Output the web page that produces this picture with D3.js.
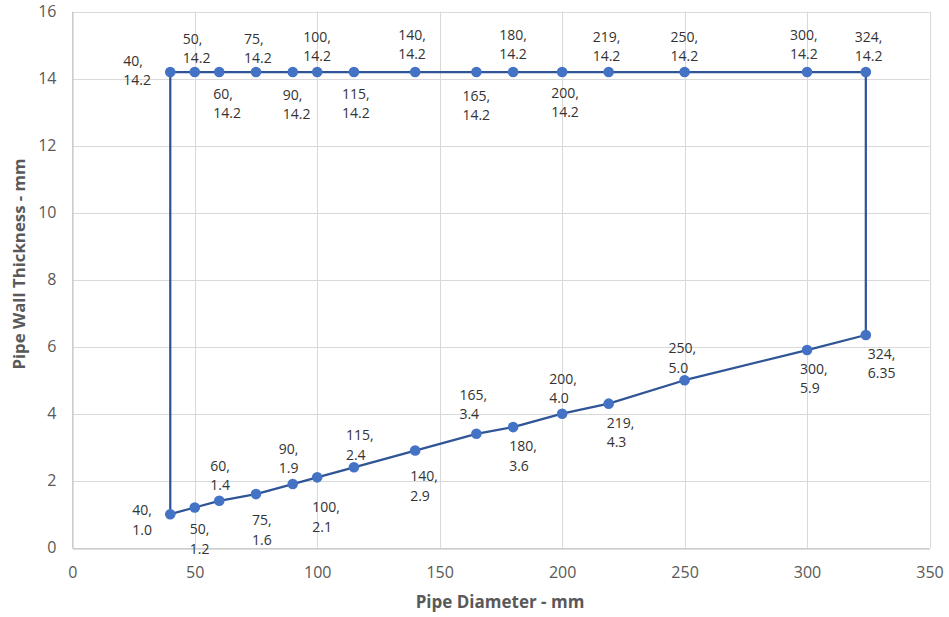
<!DOCTYPE html>
<html>
<head>
<meta charset="utf-8">
<script src="https://cdn.jsdelivr.net/npm/d3@7/dist/d3.min.js"></script>
<style>
  html, body { margin: 0; padding: 0; background: #fff; }
  svg { display: block; font-family: "Open Sans", "Segoe UI", sans-serif; }
</style>
</head>
<body>
<svg id="chart" width="949" height="617"></svg>
<script>
// ---- data ----
const diameters = [40, 50, 60, 75, 90, 100, 115, 140, 165, 180, 200, 219, 250, 300, 324];
const minThickness = [1.0, 1.2, 1.4, 1.6, 1.9, 2.1, 2.4, 2.9, 3.4, 3.6, 4.0, 4.3, 5.0, 5.9, 6.35];
const maxThickness = [14.2, 14.2, 14.2, 14.2, 14.2, 14.2, 14.2, 14.2, 14.2, 14.2, 14.2, 14.2, 14.2, 14.2, 14.2];
const xTicks = [0, 50, 100, 150, 200, 250, 300, 350];
const yTicks = [0, 2, 4, 6, 8, 10, 12, 14, 16];
const xTitle = "Pipe Diameter - mm";
const yTitle = "Pipe Wall Thickness - mm";

// ---- label placement (style: pixel offsets of label block from its point) ----
const lowerLabelOffset = [[-38, -4], [-5, 22], [-9, -35], [-4, 26], [-14, -35], [-5, 30], [-8, -32], [-5, 26],
                          [-17, -39], [-4, 19], [-13, -35], [-2, 19], [-16, -32], [-7, 19], [2, 19]];
const upperLabelOffset = [[-47, -11], [-12, -33], [-6, 22], [-12, -33], [-10, 23], [-14, -35], [-12, 22], [-17, -37],
                          [-14, 24], [-14, -37], [-11, 21], [-16, -35], [-14, -35], [-17, -37], [-11, -35]];

// ---- layout ----
const svg = d3.select("#chart");
const plot = { left: 72.3, right: 929.5, top: 11.7, bottom: 547.7 };
const x = d3.scaleLinear().domain([0, 350]).range([plot.left, plot.right]);
const y = d3.scaleLinear().domain([0, 16]).range([plot.bottom, plot.top]);

const lineColor = "#2F5597";
const markerColor = "#4472C4";
const gridColor = "#D9D9D9";
const tickColor = "#595959";

// gridlines
const grid = svg.append("g");
grid.selectAll("line.h").data(yTicks).join("line")
  .attr("x1", plot.left).attr("x2", plot.right)
  .attr("y1", d => Math.round(y(d)) + 0.5).attr("y2", d => Math.round(y(d)) + 0.5)
  .attr("stroke", gridColor).attr("stroke-width", 1);
grid.selectAll("line.v").data(xTicks).join("line")
  .attr("y1", plot.top).attr("y2", plot.bottom)
  .attr("x1", d => Math.round(x(d)) + 0.5).attr("x2", d => Math.round(x(d)) + 0.5)
  .attr("stroke", gridColor).attr("stroke-width", 1);

// axes
const xAxis = d3.axisBottom(x).tickValues(xTicks).tickSize(0).tickPadding(18);
const gx = svg.append("g").attr("transform", `translate(0,${Math.round(plot.bottom) + 0.5})`).call(xAxis);
gx.select(".domain").attr("stroke", "#BFBFBF");
gx.selectAll("text").attr("fill", tickColor).style("font-size", "16px").style("font-family", "'Open Sans', sans-serif");

const yAxis = d3.axisLeft(y).tickValues(yTicks).tickSize(0).tickPadding(16);
const gy = svg.append("g").attr("transform", `translate(${Math.round(plot.left) + 0.5},0)`).call(yAxis);
gy.select(".domain").attr("stroke", "#BFBFBF");
gy.selectAll("text").attr("fill", tickColor).style("font-size", "16px").style("font-family", "'Open Sans', sans-serif");

// axis titles
svg.append("text").attr("x", 500).attr("y", 602).attr("dy", "0.35em")
  .attr("text-anchor", "middle").attr("fill", tickColor)
  .style("font-size", "17px").style("font-weight", "bold").text(xTitle);
svg.append("text").attr("transform", `translate(19,264) rotate(-90)`).attr("dy", "0.35em")
  .attr("text-anchor", "middle").attr("fill", tickColor)
  .style("font-size", "16.8px").style("font-weight", "bold").text(yTitle);

// series: lower curve, up the right side, back along the top, down the left side
const lower = diameters.map((d, i) => ({ x: d, y: minThickness[i], off: lowerLabelOffset[i] }));
const upper = diameters.map((d, i) => ({ x: d, y: maxThickness[i], off: upperLabelOffset[i] }));
const loop = lower.concat(upper.slice().reverse(), [lower[0]]);

const line = d3.line().x(d => x(d.x)).y(d => y(d.y));
svg.append("path").datum(loop).attr("d", line)
  .attr("fill", "none").attr("stroke", lineColor).attr("stroke-width", 2.25)
  .attr("stroke-linejoin", "round");

const allPts = lower.concat(upper);
svg.append("g").selectAll("circle").data(allPts).join("circle")
  .attr("cx", d => x(d.x)).attr("cy", d => y(d.y)).attr("r", 5.3)
  .attr("fill", markerColor);

// data labels
const fmt = v => (Number.isInteger(v) ? v.toFixed(1) : String(v));
const lbl = svg.append("g").style("font-size", "14px").attr("fill", "#333333");
allPts.forEach(d => {
  const px = x(d.x), py = y(d.y);
  const lines = [d.x + ",", fmt(d.y)];
  lines.forEach((t, k) => {
    lbl.append("text")
      .attr("x", px + d.off[0])
      .attr("y", py + d.off[1] + k * 19.5)
      .attr("dy", "0.35em")
      .text(t);
  });
});
</script>
</body>
</html>
